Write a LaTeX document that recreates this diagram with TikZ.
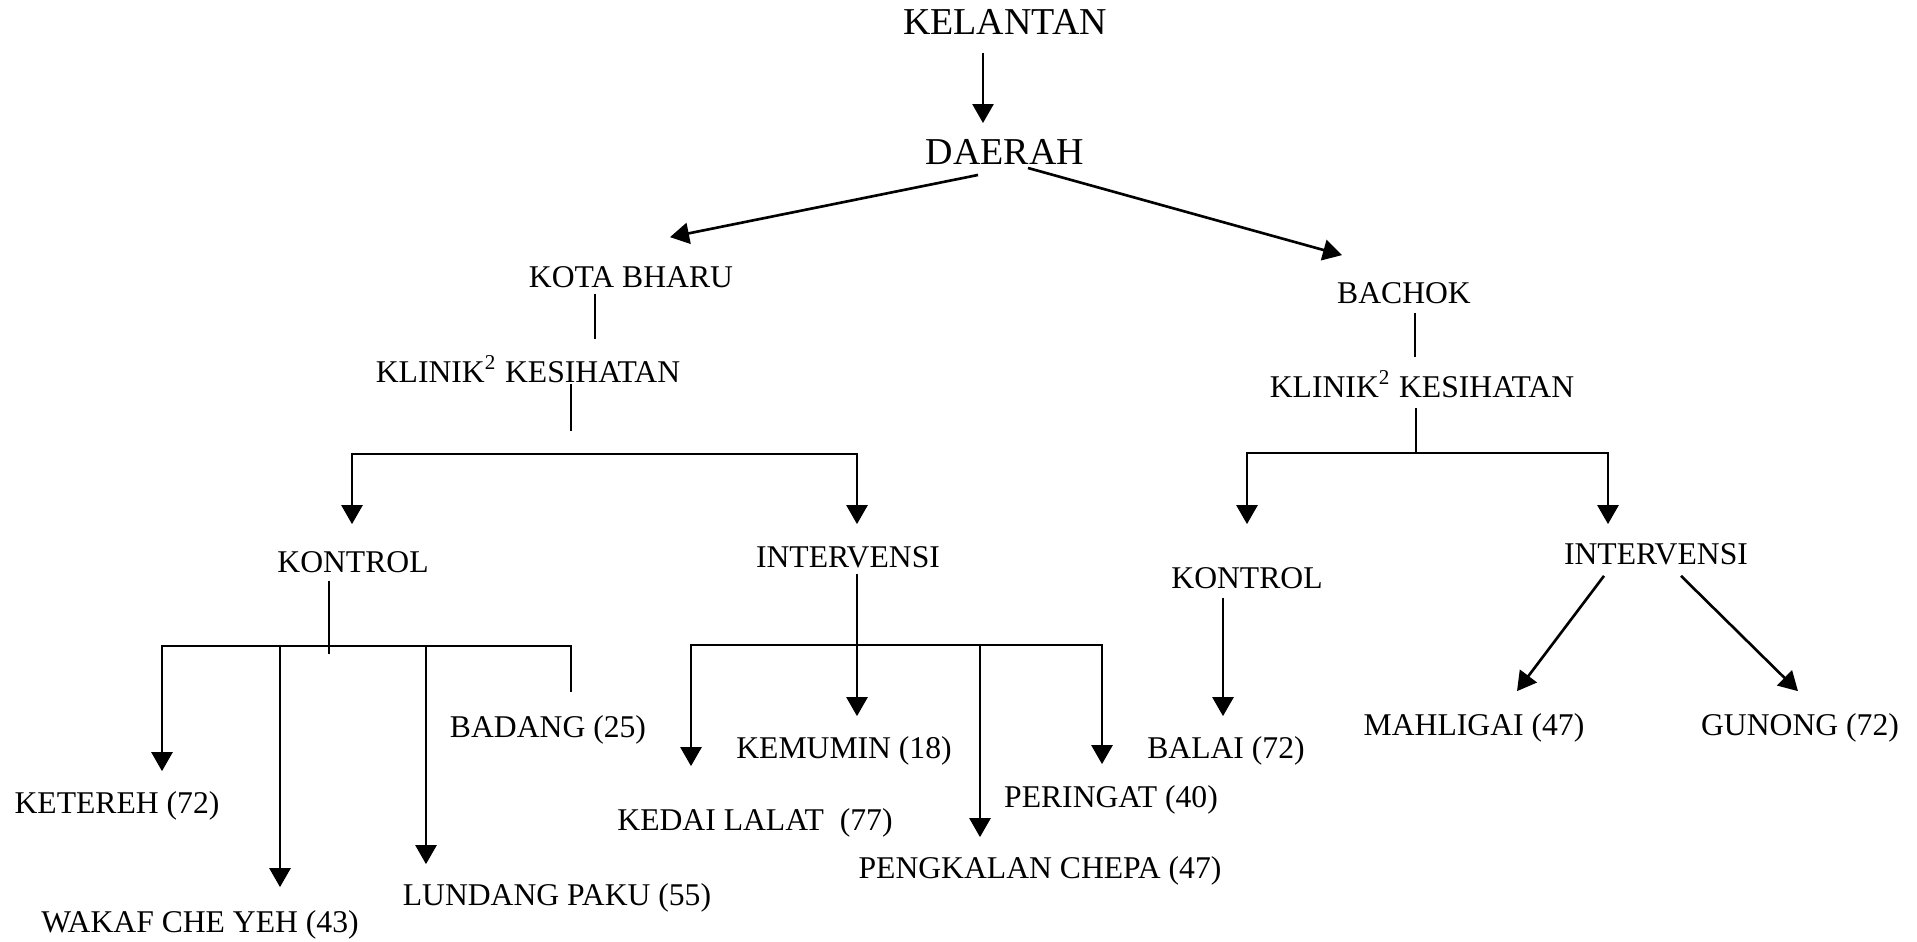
\documentclass[tikz,border=0pt]{standalone}
\usepackage{fontspec}
\setmainfont{Liberation Serif}
\usepackage{tikz}
\usetikzlibrary{calc}
\usetikzlibrary{arrows.meta, positioning}

\begin{document}
\begin{tikzpicture}[x=0.01cm,y=-0.01cm,line width=0.75pt,
                    >={Triangle[length=0.19cm,width=0.21cm]},
                    place node/.style={inner sep=0pt,text height=6pt,text depth=0pt,
                                       font=\fontsize{9}{10}\selectfont},
                    top node/.style={inner sep=0pt,text height=7.2pt,text depth=0pt,
                                     font=\fontsize{10.8}{12}\selectfont}]

  \useasboundingbox (0,0) rectangle (1917,942);

  % negeri dan daerah
  \node[top node] (kelantan) at (1005,22) {KELANTAN};
  \node[top node] (daerah) at (1005,152) {DAERAH};
  \node[place node] (kotabharu) at (631,277) {KOTA BHARU};
  \node[place node] (bachok) at (1404,293) {BACHOK};
  \node[place node] (klinikA) at (528,372) {KLINIK\textsuperscript{2} KESIHATAN};
  \node[place node] (klinikB) at (1422,387) {KLINIK\textsuperscript{2} KESIHATAN};

  % kumpulan
  \node[place node] (kontrolA) at (353,562) {KONTROL};
  \node[place node] (intervA) at (848,557) {INTERVENSI};
  \node[place node] (kontrolB) at (1247,578) {KONTROL};
  \node[place node] (intervB) at (1656,554) {INTERVENSI};

  % klinik
  \node[place node] (ketereh) at (117,803) {KETEREH (72)};
  \node[place node] (wakaf) at (200,922) {WAKAF CHE YEH (43)};
  \node[place node] (lundang) at (557,895) {LUNDANG PAKU (55)};
  \node[place node] (badang) at (548,727) {BADANG (25)};
  \node[place node] (kemumin) at (844,748) {KEMUMIN (18)};
  \node[place node] (kedai) at (755,820) {KEDAI LALAT~ (77)};
  \node[place node] (peringat) at (1111,797) {PERINGAT (40)};
  \node[place node] (pengkalan) at (1040,868) {PENGKALAN CHEPA (47)};
  \node[place node] (balai) at (1226,748) {BALAI (72)};
  \node[place node] (mahligai) at (1474,725) {MAHLIGAI (47)};
  \node[place node] (gunong) at (1800,725) {GUNONG (72)};

  \coordinate (forkKA) at (571,454);
  \coordinate (forkKB) at (1416,453);
  \coordinate (forkA) at (329,646);
  \coordinate (forkB) at (857,645);

  \path[->]
    ($(kelantan.south)+(-22,17)$) edge ($(daerah.north)+(-22,-15)$)
    ($(daerah.south)+(-27,9)$) edge ($(kotabharu.north)+(39,-28)$)
    ($(daerah.south)+(23,2)$) edge ($(bachok.north)+(-62,-26)$)
    ($(intervA.south)+(9,5)$) edge ($(kemumin.north)+(13,-20)$)
    ($(kontrolB.south)+(-24,8)$) edge ($(balai.north)+(-3,-20)$)
    ($(intervB.south)+(-52,10)$) edge ($(mahligai.north)+(43,-22)$)
    ($(intervB.south)+(25,10)$) edge ($(gunong.north)+(-2,-22)$);

  \path
    ($(kotabharu.south)+(-36,5)$) edge ($(klinikA.north)+(67,-21)$)
    ($(bachok.south)+(11,8)$) edge ($(klinikB.north)+(-7,-18)$)
    ($(klinikB.south)+(-6,9)$) edge (forkKB);
  \draw ($(klinikA.south)+(43,0)$) -- ++(0,47);
  \draw ($(kontrolA.south)+(-24,7)$) -- ++(0,73);

  \draw[->] (forkKA) -| ($(kontrolA.north)+(-1,-26)$);
  \draw[->] (forkKA) -| ($(intervA.north)+(9,-21)$);
  \draw[->] (forkKB) -| ($(kontrolB.north)+(0,-42)$);
  \draw[->] (forkKB) -| ($(intervB.north)+(-48,-18)$);

  \draw[->] (forkA) -| ($(ketereh.north)+(45,-20)$);
  \draw[->] (forkA) -| ($(wakaf.north)+(80,-23)$);
  \draw[->] (forkA) -| ($(lundang.north)+(-131,-19)$);
  \draw (forkA) -| ($(badang.north)+(23,-23)$);

  \draw[->] (forkB) -| ($(kedai.north)+(-64,-42)$);
  \draw[->] (forkB) -| ($(pengkalan.north)+(-60,-19)$);
  \draw[->] (forkB) -| ($(peringat.north)+(-9,-21)$);
\end{tikzpicture}
\end{document}
